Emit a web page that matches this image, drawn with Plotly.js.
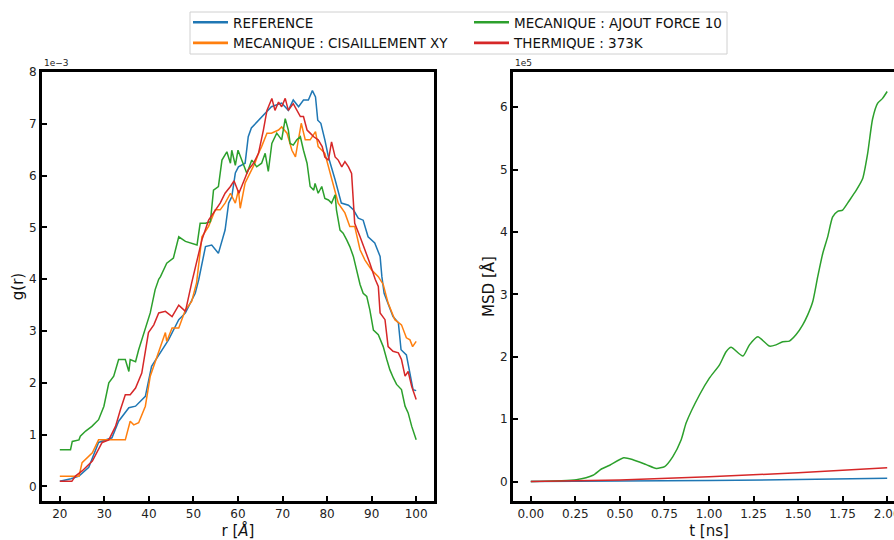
<!DOCTYPE html>
<html><head><meta charset="utf-8">
<script src="https://cdn.plot.ly/plotly-3.0.1.min.js"></script>
<style>html,body{margin:0;padding:0;overflow:hidden;background:#fff;width:894px;height:540px}</style>
</head><body><div id="chart" style="width:912px;height:540px"></div>
<script>
// ---- g(r) data (units of 1e-3) ----
const r_ref = [20,21.3,22.5,24.3,26.5,28.7,31.7,33.2,35.5,37,39.2,40.6,42.2,44.4,46.7,48.2,50.4,51.2,52.7,54.1,55.6,57.1,57.9,58.6,59.4,60.1,61.6,62.3,63.0,64.6,66.1,67.5,69.8,71.3,72.4,73.6,74.7,75.8,76.7,77.4,77.9,78.6,79.5,80.3,81.8,83.2,84.8,85.9,87,88.1,89.2,90.7,91.9,92.3,92.8,93.7,94.8,96,96.6,97.8,98.6,99.3,100];
const g_ref = [0.1,0.12,0.15,0.2,0.37,0.85,0.94,1.26,1.52,1.55,1.74,2.32,2.54,2.83,3.22,3.35,3.73,4.0,4.63,4.66,4.5,4.95,5.47,5.59,6.05,6.17,6.24,6.75,6.92,7.07,7.2,7.33,7.4,7.26,7.46,7.33,7.46,7.46,7.64,7.52,7.07,7.01,6.69,6.36,5.92,5.47,5.43,5.34,5.18,5.14,4.82,4.7,4.44,4.05,3.73,3.54,3.28,3.16,2.64,2.54,2.19,1.87,1.85];

const r_shear = [20,24.3,25,27.3,28.7,34.7,35.8,36.6,37.7,39.2,40.3,41.8,43.7,44,45.2,46.7,48.2,49.6,50.7,51.9,53.4,54.9,56,57.1,58.3,59.4,60.1,60.5,61.6,62.3,63.8,64.6,65.3,66.5,67.5,69.1,69.8,71,72.1,72.9,73.6,74.2,75.1,76.2,77.4,78.0,79.5,80.3,81,82.5,84,85.1,86.2,87.4,88.5,90,91.5,92.6,93.7,95.2,96.7,97.8,98.6,99.2,100];
const g_shear = [0.2,0.2,0.46,0.65,0.9,0.9,1.26,1.19,1.23,1.55,2.13,2.51,2.97,2.8,3.06,3.06,3.41,3.57,3.93,4.82,5.02,5.34,5.34,5.47,5.66,5.47,5.72,5.37,5.86,5.98,6.24,6.43,6.56,6.82,6.82,6.88,6.94,6.82,6.49,6.36,6.69,7.01,6.69,6.69,6.85,6.56,6.43,6.17,5.98,5.47,5.28,5.02,5.02,4.57,4.37,4.18,4.05,3.9,3.54,3.22,3.12,2.87,2.83,2.7,2.8];

const r_force = [20,22.4,22.8,24.3,24.6,25.8,27.2,28.7,29.9,31,32.1,33.2,34.7,35.5,35.8,37,37.7,39.2,40.3,41.4,42.2,42.6,44,45.5,46.7,48.2,49.6,50.8,51.5,52.7,53.8,54.5,55.6,56.4,57.5,58.3,58.6,59.4,60,60.9,62,63.1,64.2,65.3,66.1,66.8,67.6,68.7,69.8,70.6,71.3,71.7,72.4,73.2,74,74.7,75.5,76.2,77,77.3,78,78.8,79.5,80.3,81,81.8,82.1,82.9,83.6,84.4,85.1,85.9,86.6,87.4,88.1,88.9,89.6,90.4,91.5,92.6,93.4,94.1,94.9,95.6,96.7,97.5,98.2,99,100];
const g_force = [0.71,0.71,0.87,0.9,0.97,1.07,1.16,1.29,1.55,2.0,2.13,2.45,2.45,2.22,2.45,2.41,2.64,3.06,3.35,3.8,4.0,4.05,4.31,4.41,4.82,4.73,4.7,4.66,5.08,5.08,5.11,5.72,5.79,6.3,6.46,6.24,6.49,6.2,6.49,6.3,6.04,6.3,6.17,6.24,6.43,6.08,6.62,6.82,6.69,7.1,6.88,6.62,6.59,6.69,6.75,6.49,6.24,5.79,5.72,5.85,5.66,5.79,5.56,5.53,5.47,5.63,5.34,4.95,4.89,4.76,4.63,4.44,4.18,3.9,3.73,3.67,3.41,3.02,2.93,2.7,2.45,2.25,2.09,1.97,1.87,1.55,1.42,1.16,0.9];

const r_therm = [20,22.7,23.5,25,27.3,29.5,31,32.5,33.6,34.7,35.8,37,38.4,39.9,41.1,42.2,43.7,45.2,46.7,48.2,49.6,50.4,51.9,53.4,54.9,56,57.1,58.3,59.1,60.2,61.7,62.3,63.5,64.6,65.7,66.5,67.6,68.3,69.1,69.8,70.6,71.3,72.4,73.2,74,74.7,75.5,76.2,77,78,78.9,79.5,80.3,81,81.8,82.5,83.3,84,84.8,85.5,86.2,87.4,88.5,89.6,90.8,91.5,91.9,93,93.7,94.8,96,96.7,97.5,98.2,99,100];
const g_therm = [0.1,0.1,0.2,0.3,0.49,0.85,0.9,1.16,1.48,1.77,1.77,1.9,2.19,2.97,3.12,3.35,3.38,3.28,3.5,3.38,3.93,4.24,4.76,5.14,5.34,5.47,5.66,5.79,5.9,5.66,5.98,6.11,6.24,6.43,6.88,7.26,7.49,7.26,7.42,7.33,7.49,7.26,7.39,7.26,7.14,7.14,6.88,6.82,6.75,6.69,6.56,6.36,6.3,6.65,6.36,6.3,6.17,6.27,6.17,6.04,5.08,4.82,4.57,4.31,4.0,3.86,3.35,3.22,2.7,2.61,2.58,2.45,2.13,2.22,1.93,1.68];

// ---- MSD data (units of 1e5) ----
const t_ref = [0,0.5,1.0,1.5,2.0];
const msd_ref = [0,0.006,0.015,0.032,0.053];
const t_therm = [0,0.5,1.0,1.5,2.0];
const msd_therm = [0,0.025,0.075,0.14,0.22];
const t_force = [0,0.256,0.349,0.396,0.443,0.521,0.573,0.648,0.704,0.751,0.797,0.844,0.872,0.947,1.003,1.059,1.096,1.124,1.19,1.227,1.274,1.339,1.376,1.414,1.451,1.488,1.526,1.554,1.582,1.61,1.638,1.666,1.694,1.722,1.75,1.787,1.825,1.862,1.89,1.918,1.946,1.974,2.0];
const msd_force = [0,0.03,0.1,0.2,0.26,0.38,0.35,0.27,0.21,0.24,0.4,0.67,0.94,1.39,1.66,1.87,2.08,2.15,2.01,2.19,2.32,2.17,2.19,2.24,2.25,2.35,2.51,2.67,2.88,3.28,3.65,3.92,4.24,4.33,4.35,4.5,4.66,4.85,5.25,5.81,6.06,6.14,6.25];

const names = ['REFERENCE','MECANIQUE : CISAILLEMENT XY','MECANIQUE : AJOUT FORCE 10','THERMIQUE : 373K'];
const colors = ['#1f77b4','#ff7f0e','#2ca02c','#d62728'];

const F = 'DejaVu Sans, sans-serif';
const lw = 1.5;
const base = {type:'scatter',mode:'lines',hoverinfo:'skip'};
const mk = t => Object.assign({}, base, t);
const traces = [
  mk({x:r_ref,y:g_ref,name:names[0],line:{color:colors[0],width:lw},showlegend:false}),
  mk({x:r_shear,y:g_shear,name:names[1],line:{color:colors[1],width:lw},showlegend:false}),
  mk({x:r_force,y:g_force,name:names[2],line:{color:colors[2],width:lw},showlegend:false}),
  mk({x:r_therm,y:g_therm,name:names[3],line:{color:colors[3],width:lw},showlegend:false}),
  mk({x:t_ref,y:msd_ref,name:names[0],line:{color:colors[0],width:lw},xaxis:'x2',yaxis:'y2',showlegend:false}),
  mk({x:t_force,y:msd_force,name:names[2],line:{color:colors[2],width:lw,shape:'spline',smoothing:0.6},xaxis:'x2',yaxis:'y2',showlegend:false}),
  mk({x:t_therm,y:msd_therm,name:names[3],line:{color:colors[3],width:lw},xaxis:'x2',yaxis:'y2',showlegend:false}),
  // legend entries (thicker handles, as in the reference)
  mk({x:[null],y:[null],name:names[0],line:{color:colors[0],width:2.6},legend:'legend',legendgroup:'a'}),
  mk({x:[null],y:[null],name:names[1],line:{color:colors[1],width:2.6},legend:'legend',legendgroup:'b'}),
  mk({x:[null],y:[null],name:names[2],line:{color:colors[2],width:2.6},legend:'legend2',legendgroup:'c'}),
  mk({x:[null],y:[null],name:names[3],line:{color:colors[3],width:2.6},legend:'legend2',legendgroup:'d'})
];

const W = 912, H = 540, ml = 42, mr = 7, mt = 72, mb = 39;
const pw = W - ml - mr, ph = H - mt - mb;
const px = v => (v - ml) / pw;
const py = v => (H - mb - v) / ph;

const axBase = {
  showline:true, mirror:true, linewidth:3, linecolor:'#000',
  ticks:'inside', ticklen:5, tickwidth:2, tickcolor:'#000',
  showgrid:false, zeroline:false,
  tickfont:{family:F,size:12,color:'#222'},
  title:{font:{family:F,size:15,color:'#111'}}
};
const ax = o => Object.assign(JSON.parse(JSON.stringify(axBase)), o, {title:Object.assign({}, axBase.title, o.title||{})});

const legendBase = {
  orientation:'v', xanchor:'left', yanchor:'top', bgcolor:'rgba(0,0,0,0)', borderwidth:0,
  font:{family:F,size:13.5,color:'#111'}, tracegroupgap:0, itemwidth:35
};

const layout = {
  width:W, height:H,
  margin:{l:ml,r:mr,t:mt,b:mb},
  paper_bgcolor:'#fff', plot_bgcolor:'#fff',
  showlegend:true,
  xaxis: ax({domain:[0,392/pw], range:[16,104], tickvals:[20,30,40,50,60,70,80,90,100], title:{text:'r [<i>Å</i>]', standoff:8}}),
  yaxis: ax({range:[-0.28,8.0], tickvals:[0,1,2,3,4,5,6,7,8], title:{text:'g(r)', standoff:2}}),
  xaxis2: ax({domain:[(513-ml)/pw,1], anchor:'y2', range:[-0.1,2.1], tickvals:[0,0.25,0.5,0.75,1,1.25,1.5,1.75,2], tickformat:'.2f', title:{text:'t [ns]', standoff:6}}),
  yaxis2: ax({anchor:'x2', range:[-0.3125,6.5625], tickvals:[0,1,2,3,4,5,6], title:{text:'MSD [Å]', standoff:2}}),
  legend: Object.assign({}, legendBase, {x:px(188), y:py(7)}),
  legend2: Object.assign({}, legendBase, {x:px(469), y:py(7)}),
  shapes:[
    {type:'rect', xref:'paper', yref:'paper', x0:px(190), x1:px(727), y0:py(54), y1:py(12), line:{color:'#d0d0d0',width:1}, fillcolor:'rgba(255,255,255,0)', layer:'below'}
  ],
  annotations:[
    {xref:'paper',yref:'paper',x:px(42),y:py(70),xanchor:'left',yanchor:'bottom',text:'1e\u22123',showarrow:false,font:{family:F,size:9,color:'#222'}},
    {xref:'paper',yref:'paper',x:px(513),y:py(70),xanchor:'left',yanchor:'bottom',text:'1e5',showarrow:false,font:{family:F,size:9,color:'#222'}}
  ]
};

Plotly.newPlot('chart', traces, layout, {displayModeBar:false, staticPlot:true});
</script></body></html>
